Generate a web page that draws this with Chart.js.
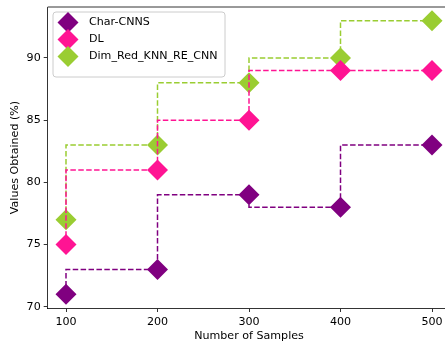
<!DOCTYPE html>
<html>
<head>
<meta charset="utf-8">
<script src="https://cdn.jsdelivr.net/npm/chart.js@4"></script>
<style>
  html, body { margin: 0; padding: 0; background: #fff; overflow: hidden; }
  #wrap { width: 452px; height: 347px; }
</style>
</head>
<body>
<div id="wrap"><canvas id="chart" width="452" height="347"></canvas></div>
<script>
const samples = [100, 200, 300, 400, 500];
const charCnns = [71, 73, 79, 78, 83];
const dl = [75, 81, 85, 89, 89];
const dimRed = [77, 83, 88, 90, 93];
const xTicks = [100, 200, 300, 400, 500];
const yTicks = [70, 75, 80, 85, 90];

const seriesNames = ['Char-CNNS', 'DL', 'Dim_Red_KNN_RE_CNN'];
const seriesColors = ['#800080', '#ff1493', '#9acd32'];
const seriesValues = [charCnns, dl, dimRed];

const FONT = 'DejaVu Sans';
const FSIZE = 11.1;

function makeDataset(i) {
  return {
    label: seriesNames[i],
    data: samples.map((x, j) => ({ x, y: seriesValues[i][j] })),
    borderColor: seriesColors[i],
    backgroundColor: seriesColors[i],
    borderWidth: 1.5,
    borderDash: [5.5, 2.4],
    stepped: 'after',
    pointStyle: 'rectRot',
    pointRadius: 10.5,
    pointHoverRadius: 10.5,
    pointBorderWidth: 0,
    fill: false,
    clip: 12
  };
}

// top spine + legend box inside the plot
const framePlugin = {
  id: 'frame',
  afterDraw(chart) {
    const { ctx, chartArea } = chart;
    ctx.save();
    ctx.strokeStyle = '#000';
    ctx.lineWidth = 0.8;
    ctx.beginPath();
    ctx.moveTo(chartArea.left, chartArea.top);
    ctx.lineTo(chartArea.right, chartArea.top);
    ctx.lineTo(chartArea.right, chartArea.bottom);
    ctx.stroke();

    const bx = 53, by = 12, bw = 172, bh = 65;
    ctx.beginPath();
    ctx.roundRect(bx, by, bw, bh, 3);
    ctx.fillStyle = 'rgba(255,255,255,0.8)';
    ctx.fill();
    ctx.strokeStyle = '#cccccc';
    ctx.lineWidth = 1;
    ctx.stroke();

    ctx.font = FSIZE + 'px "' + FONT + '"';
    ctx.textBaseline = 'middle';
    seriesNames.forEach((name, i) => {
      const cy = 22.5 + i * 17;
      const cx = 68;
      const r = 10.5;
      ctx.beginPath();
      ctx.moveTo(cx, cy - r);
      ctx.lineTo(cx + r, cy);
      ctx.lineTo(cx, cy + r);
      ctx.lineTo(cx - r, cy);
      ctx.closePath();
      ctx.fillStyle = seriesColors[i];
      ctx.fill();
      ctx.fillStyle = '#000';
      ctx.fillText(name, 89, cy);
    });
    ctx.restore();
  }
};

new Chart(document.getElementById('chart'), {
  type: 'line',
  data: { datasets: [0, 1, 2].map(makeDataset) },
  options: {
    responsive: false,
    animation: false,
    events: [],
    layout: { autoPadding: false, padding: { top: 7, right: 1.7, left: 0, bottom: 0 } },
    plugins: { legend: { display: false }, tooltip: { enabled: false } },
    scales: {
      x: {
        type: 'linear',
        min: 80,
        max: 520,
        afterFit(scale) {
          scale.height = 39;
          scale.paddingLeft = 0;
          scale.paddingRight = 0;
        },
        afterBuildTicks(scale) { scale.ticks = xTicks.map(v => ({ value: v })); },
        grid: { drawOnChartArea: false, tickLength: 4, color: '#000', tickWidth: 0.8 },
        border: { color: '#000', width: 0.8 },
        ticks: { color: '#000', font: { family: FONT, size: FSIZE }, padding: 3.5, maxRotation: 0 },
        title: { display: true, text: 'Number of Samples', color: '#000', font: { family: FONT, size: FSIZE }, padding: { top: 0, bottom: 4 } }
      },
      y: {
        min: 69.9,
        max: 94.1,
        afterFit(scale) {
          scale.width = 47.7;
          scale.paddingTop = 0;
          scale.paddingBottom = 0;
        },
        afterBuildTicks(scale) { scale.ticks = yTicks.map(v => ({ value: v })); },
        grid: { drawOnChartArea: false, tickLength: 4, color: '#000', tickWidth: 0.8 },
        border: { color: '#000', width: 0.8 },
        ticks: { color: '#000', font: { family: FONT, size: FSIZE }, padding: 3 },
        title: { display: true, text: 'Values Obtained (%)', color: '#000', font: { family: FONT, size: FSIZE }, padding: { top: 8, bottom: 0 } }
      }
    }
  },
  plugins: [framePlugin]
});
</script>
</body>
</html>
